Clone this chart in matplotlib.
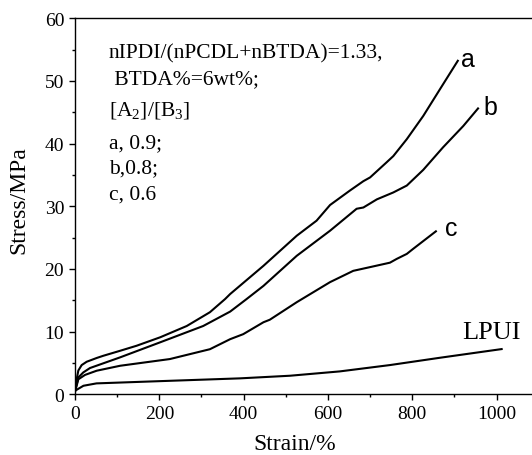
import matplotlib
matplotlib.use('Agg')
from matplotlib import pyplot as plt
from matplotlib.ticker import MultipleLocator

plt.rcParams['font.family'] = 'Liberation Serif'
plt.rcParams['mathtext.fontset'] = 'custom'
plt.rcParams['mathtext.rm'] = 'Liberation Serif'

# stress-strain curves (strain in %, stress in MPa)
strain_a = [0, 2.4, 7.9, 15.8, 27.7, 51.4, 67, 107, 146, 202, 265, 320, 356, 368, 447,
            526, 573, 605, 652, 684, 700, 739, 755, 787, 826, 866, 908]
stress_a = [0.6, 1.9, 3.8, 4.67, 5.2, 5.8, 6.15, 6.95, 7.75, 9.1, 10.9, 13.1, 15.2, 16.0,
            20.5, 25.3, 27.7, 30.2, 32.5, 34.0, 34.6, 37.0, 38.0, 40.7, 44.4, 48.7, 53.2]

strain_b = [0, 7.9, 19.7, 35.6, 107, 202, 304, 368, 407, 447, 526, 605, 668, 684, 716,
            755, 787, 826, 873, 921, 956]
stress_b = [0.5, 2.7, 3.5, 4.2, 5.9, 8.3, 10.9, 13.2, 15.2, 17.3, 22.1, 26.1, 29.6, 29.8,
            31.1, 32.2, 33.3, 35.8, 39.4, 42.8, 45.6]

strain_c = [0, 7.9, 23.7, 51.4, 107, 225, 320, 368, 399, 447, 462, 526, 605, 660, 707,
            747, 763, 787, 802, 856]
stress_c = [0.4, 2.4, 3.1, 3.77, 4.56, 5.63, 7.2, 8.8, 9.6, 11.5, 11.9, 14.7, 17.9, 19.7,
            20.4, 21.0, 21.6, 22.4, 23.2, 26.0]

strain_lpui = [0, 20, 51, 186, 391, 510, 628, 747, 866, 1012]
stress_lpui = [0.57, 1.37, 1.75, 2.07, 2.55, 2.97, 3.66, 4.67, 5.84, 7.22]

fig = plt.figure(figsize=(5.32, 4.56), dpi=100)
ax = fig.add_axes([0.141, 0.133, 0.859, 0.825])

for xs, ys in [(strain_a, stress_a), (strain_b, stress_b),
               (strain_c, stress_c), (strain_lpui, stress_lpui)]:
    ax.plot(xs, ys, color='black', lw=1.5)

ax.set_xlim(0, 1084)
ax.set_ylim(0, 60)
ax.xaxis.set_major_locator(MultipleLocator(200))
ax.xaxis.set_minor_locator(MultipleLocator(100))
ax.yaxis.set_major_locator(MultipleLocator(10))
ax.yaxis.set_minor_locator(MultipleLocator(5))
ax.tick_params(which='major', direction='out', length=4.3, width=1, labelsize=14)
ax.tick_params(which='minor', direction='out', length=2.2, width=1)
ax.spines['right'].set_visible(False)
for s in ['left', 'bottom', 'top']:
    ax.spines[s].set_linewidth(1.0)

ax.set_xlabel('Strain/%', fontsize=17)
ax.set_ylabel('Stress/MPa', fontsize=17)
ax.xaxis.set_label_coords(0.481, -0.102)
ax.yaxis.set_label_coords(-0.1, 0.519)

# composition notes
notes = ['nIPDI/(nPCDL+nBTDA)=1.33,', ' BTDA%=6wt%;',
         r'[A$\mathregular{_2}$]/[B$\mathregular{_3}$]', 'a, 0.9;', 'b,0.8;', 'c, 0.6']
note_y = [54.5, 50.3, 45.5, 40.2, 36.2, 31.9]
for txt, yy in zip(notes, note_y):
    ax.text(80, yy, txt, fontsize=15.5, va='center', ha='left')

ax.text(933, 53.5, 'a', fontsize=18, family='Liberation Sans', ha='center', va='center')
ax.text(986, 45.9, 'b', fontsize=18, family='Liberation Sans', ha='center', va='center')
ax.text(893, 26.6, 'c', fontsize=18, family='Liberation Sans', ha='center', va='center')
ax.text(987, 9.9, 'LPUI', fontsize=19, ha='center', va='center')

fig.savefig('out.png', dpi=100)
